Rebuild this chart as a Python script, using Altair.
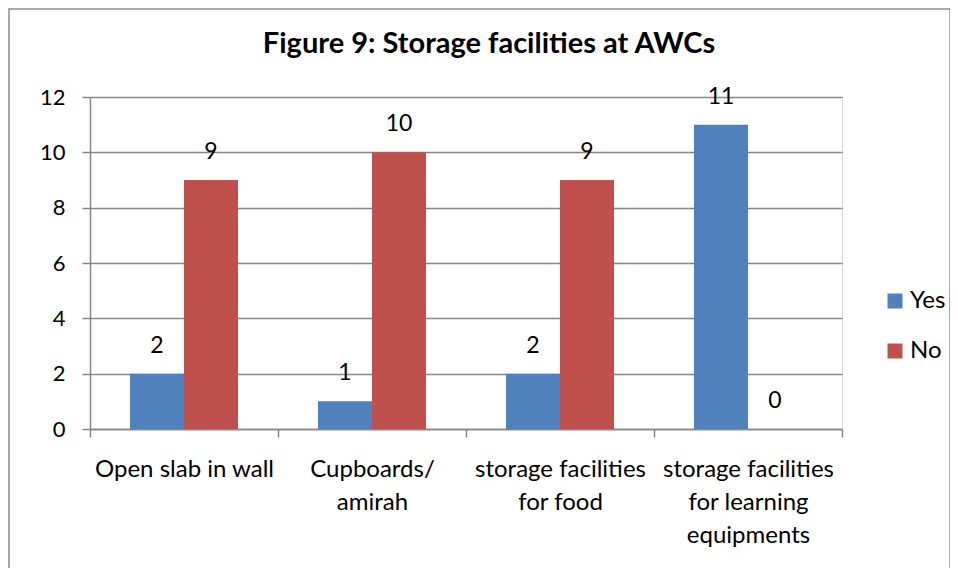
import json
import altair as alt
import pandas as pd

categories = [
    "Open slab in wall",
    "Cupboards/ amirah",
    "storage facilities for food",
    "storage facilities for learning equipments",
]
label_lines = [
    ["Open slab in wall"],
    ["Cupboards/", "amirah"],
    ["storage facilities", "for food"],
    ["storage facilities", "for learning", "equipments"],
]
series = ["Yes", "No"]
yes_values = [2, 1, 2, 11]
no_values = [9, 10, 9, 0]
colors = ["#4F81BD", "#C0504D"]
title_text = "Figure 9: Storage facilities at AWCs"

rows = []
for c, y, n in zip(categories, yes_values, no_values):
    rows.append({"category": c, "series": "Yes", "value": y})
    rows.append({"category": c, "series": "No", "value": n})
df = pd.DataFrame(rows)

label_map = json.dumps(dict(zip(categories, label_lines)))
FONT = "Lato"
GREY = "#868686"

x_enc = alt.X(
    "category:N",
    sort=categories,
    scale=alt.Scale(paddingInner=0, paddingOuter=0),
    axis=alt.Axis(
        title=None,
        labelAngle=0,
        labelExpr=f"{label_map}[datum.label]",
        labelFontSize=24,
        labelFont=FONT,
        labelColor="#000000",
        labelLineHeight=33,
        labelPadding=20,
        labelBaseline="top",
        tickBand="extent",
        tickSize=8,
        tickColor=GREY,
        domainColor=GREY,
        tickWidth=1.5,
        domainWidth=1.5,
        grid=False,
    ),
)
xoff = alt.XOffset("series:N", sort=series, scale=alt.Scale(paddingInner=0, paddingOuter=0.74))
y_enc = alt.Y(
    "value:Q",
    scale=alt.Scale(domain=[0, 12], nice=False),
    axis=alt.Axis(
        title=None,
        values=[0, 2, 4, 6, 8, 10, 12],
        labelFontSize=22,
        labelFont=FONT,
        labelColor="#000000",
        labelPadding=17,
        tickSize=8,
        tickColor=GREY,
        domainColor=GREY,
        gridColor=GREY,
        tickWidth=1.5,
        domainWidth=1.5,
        gridWidth=1.5,
    ),
)

base = alt.Chart(df)
bars = base.mark_bar().encode(
    x=x_enc,
    xOffset=xoff,
    y=y_enc,
    color=alt.Color(
        "series:N",
        sort=series,
        scale=alt.Scale(domain=series, range=colors),
        legend=alt.Legend(
            title=None,
            orient="none",
            legendX=793,
            legendY=192,
            symbolType="square",
            symbolSize=225,
            symbolStrokeWidth=0,
            labelFontSize=24,
            labelFont=FONT,
            labelColor="#000000",
            labelOffset=3,
            rowPadding=26,
            padding=0,
        ),
    ),
)
labels = base.mark_text(baseline="middle", dy=-28, fontSize=23, font=FONT, color="#000000").encode(
    x=alt.X("category:N", sort=categories),
    xOffset=alt.XOffset("series:N", sort=series),
    y=alt.Y("value:Q"),
    text=alt.Text("value:Q"),
)
title = alt.Chart(pd.DataFrame({"t": [title_text]})).mark_text(
    fontSize=29, font=FONT, fontWeight="bold", color="#000000", baseline="alphabetic", align="center"
).encode(text="t:N", x=alt.value(399), y=alt.value(-44))
frame = alt.Chart(pd.DataFrame({"t": [1]})).mark_rect(
    fill=None, stroke="#8c8c8c", strokeWidth=1.5
).encode(x=alt.value(-81), x2=alt.value(860), y=alt.value(-88), y2=alt.value(500))

chart = alt.layer(frame, bars, labels, title).properties(
    width=752,
    height=332,
    padding={"left": 82, "top": 89, "right": 108, "bottom": 139},
    autosize=alt.AutoSizeParams(type="none"),
).configure_view(stroke=None).configure(background="#ffffff")

chart.save("out.html", embed_options={"renderer": "svg", "actions": False})
